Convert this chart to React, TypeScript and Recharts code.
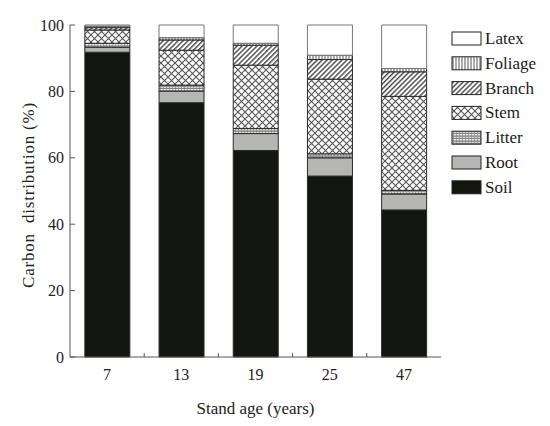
import React from "react";
import { Bar, BarChart, Label, XAxis, YAxis } from "recharts";

const ages = ["7", "13", "19", "25", "47"];
const soil = [91.8, 76.6, 62.2, 54.5, 44.3];
const root = [1.5, 3.5, 5.1, 5.5, 4.8];
const litter = [1.2, 1.8, 1.5, 1.2, 1.1];
const stem = [4.0, 10.5, 19.1, 22.5, 28.3];
const branch = [0.7, 3.1, 6.0, 5.9, 7.4];
const foliage = [0.5, 0.7, 0.6, 1.3, 1.0];
const latex = [0.3, 3.8, 5.5, 9.1, 13.1];
const yTicks = [0, 20, 40, 60, 80, 100];

const FONT = "'Liberation Serif', 'Times New Roman', serif";

// bottom to top
const series = [
  { key: "soil", name: "Soil", fill: "#121510" },
  { key: "root", name: "Root", fill: "#b6b6b4" },
  { key: "litter", name: "Litter", fill: "url(#pat-litter)" },
  { key: "stem", name: "Stem", fill: "url(#pat-stem)" },
  { key: "branch", name: "Branch", fill: "url(#pat-branch)" },
  { key: "foliage", name: "Foliage", fill: "url(#pat-foliage)" },
  { key: "latex", name: "Latex", fill: "#ffffff" },
];

const data = ages.map((age, i) => ({
  age,
  soil: soil[i],
  root: root[i],
  litter: litter[i],
  stem: stem[i],
  branch: branch[i],
  foliage: foliage[i],
  latex: latex[i],
}));

function Patterns() {
  return (
    <svg width={0} height={0} style={{ position: "absolute" }}>
      <defs>
        <pattern id="pat-foliage" width={3} height={3} patternUnits="userSpaceOnUse">
          <rect width={3} height={3} fill="#fff" />
          <line x1={1} y1={0} x2={1} y2={3} stroke="#555" strokeWidth={1} />
        </pattern>
        <pattern
          id="pat-branch"
          width={3.5}
          height={3.5}
          patternUnits="userSpaceOnUse"
          patternTransform="rotate(45)"
        >
          <rect width={3.5} height={3.5} fill="#fff" />
          <line x1={0.7} y1={0} x2={0.7} y2={3.5} stroke="#444" strokeWidth={1.4} />
        </pattern>
        <pattern id="pat-stem" width={7} height={7} patternUnits="userSpaceOnUse">
          <rect width={7} height={7} fill="#fff" />
          <path d="M0,0 L7,7 M7,0 L0,7" stroke="#555" strokeWidth={1.1} />
        </pattern>
        <pattern id="pat-litter" width={3} height={2.5} patternUnits="userSpaceOnUse">
          <rect width={3} height={2.5} fill="#fff" />
          <line x1={0} y1={1} x2={3} y2={1} stroke="#444" strokeWidth={1} />
          <line x1={1.5} y1={0} x2={1.5} y2={2.5} stroke="#888" strokeWidth={0.6} />
        </pattern>
      </defs>
    </svg>
  );
}

function AgeTick(props: any) {
  const { x, y, payload, index, width, visibleTicksCount } = props;
  const band = width && visibleTicksCount ? width / visibleTicksCount : 0;
  const half = payload?.offset || band / 2;
  return (
    <g>
      <text
        x={x}
        y={y}
        dy={11}
        textAnchor="middle"
        fontFamily={FONT}
        fontSize={16}
        fill="#222"
      >
        {payload.value}
      </text>
      {index < ages.length - 1 && half > 0 && (
        <line x1={x + half} x2={x + half} y1={y - 12} y2={y - 16} stroke="#555" />
      )}
    </g>
  );
}

function LegendBox() {
  const rows = [...series].reverse();
  return (
    <svg
      width={110}
      height={180}
      style={{ position: "absolute", left: 440, top: 20 }}
    >
      {rows.map((s, i) => {
        const cy = 18.5 + i * 24.8;
        return (
          <g key={s.key}>
            <rect
              x={12}
              y={cy - 6.5}
              width={29}
              height={13}
              fill={s.fill}
              stroke="#222"
              strokeWidth={1}
            />
            <text
              x={45}
              y={cy}
              dominantBaseline="central"
              fontFamily={FONT}
              fontSize={17}
              fill="#1a1a1a"
            >
              {s.name}
            </text>
          </g>
        );
      })}
    </svg>
  );
}

export default function App() {
  return (
    <div
      style={{
        position: "absolute",
        left: 0,
        top: 0,
        width: 550,
        height: 426,
        background: "#fff",
      }}
    >
      <Patterns />
      <BarChart
        width={550}
        height={426}
        data={data}
        margin={{ top: 25, right: 109, bottom: 9, left: 0 }}
        barCategoryGap="20%"
      >
        <XAxis
          dataKey="age"
          height={60}
          tickLine={false}
          tickSize={0}
          tickMargin={12}
          stroke="#555"
          tick={<AgeTick />}
        >
          <Label
            value="Stand age (years)"
            position="insideBottom"
            offset={3}
            style={{ fontFamily: FONT, fontSize: 17, fill: "#222" }}
          />
        </XAxis>
        <XAxis
          xAxisId="top"
          dataKey="age"
          orientation="top"
          height={0}
          tick={false}
          tickLine={false}
          stroke="#555"
        />
        <YAxis
          type="number"
          domain={[0, 100]}
          ticks={yTicks}
          width={70}
          tickSize={-5}
          tickMargin={11}
          stroke="#555"
          tick={{ fontFamily: FONT, fontSize: 16, fill: "#222" }}
        >
          <Label
            content={({ viewBox }: any) => {
              const cy = viewBox.y + viewBox.height / 2 + 4;
              const cx = viewBox.x + 28;
              return (
                <text
                  x={cx}
                  y={cy}
                  transform={`rotate(-90, ${cx}, ${cy})`}
                  textAnchor="middle"
                  dominantBaseline="central"
                  fontFamily={FONT}
                  fontSize={17}
                  letterSpacing={0.8}
                  fill="#222"
                  style={{ whiteSpace: "pre" }}
                >
                  {"Carbon  distribution (%)"}
                </text>
              );
            }}
          />
        </YAxis>
        <YAxis
          yAxisId="right"
          orientation="right"
          type="number"
          domain={[0, 100]}
          width={0}
          tick={false}
          tickLine={false}
          stroke="#555"
        />
        {series.map((s) => (
          <Bar
            key={s.key}
            dataKey={s.key}
            name={s.name}
            stackId="a"
            fill={s.fill}
            stroke={s.key === "latex" ? "#777" : "#2a2a2a"}
            strokeWidth={1}
            isAnimationActive={false}
          />
        ))}
      </BarChart>
      <LegendBox />
    </div>
  );
}
